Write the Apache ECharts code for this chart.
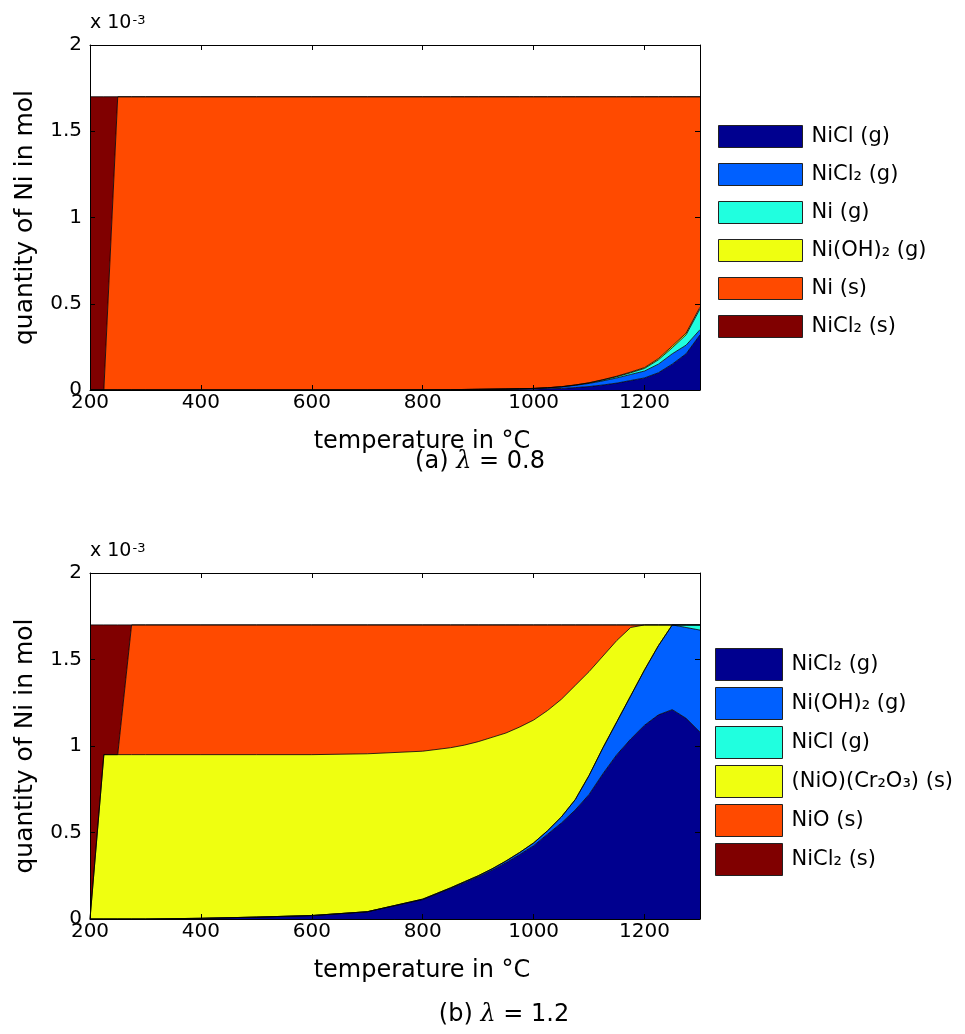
<!DOCTYPE html>
<html><head><meta charset="utf-8">
<script src="https://cdn.jsdelivr.net/npm/echarts@6/dist/echarts.min.js"></script>
<style>html,body{margin:0;padding:0;background:#fff}#c{width:965px;height:1034px}</style>
</head><body><div id="c"></div>
<script>
// temperatures (°C)
const temps = [200,225,250,275,300,400,500,600,700,800,850,875,900,925,950,975,1000,1025,1050,1075,1100,1125,1150,1175,1200,1225,1250,1275,1300];

// (a) lambda = 0.8   values in 1e-3 mol
const aNames = ['NiCl (g)','NiCl₂ (g)','Ni (g)','Ni(OH)₂ (g)','Ni (s)','NiCl₂ (s)'];
const a_NiCl_g   = [0,0,0,0,0,0,0,0,0,0.0005,0.001,0.0015,0.002,0.0025,0.003,0.004,0.005,0.007,0.009,0.014,0.02,0.029,0.04,0.055,0.07,0.1,0.15,0.21,0.32];
const a_NiCl2_g  = [0,0,0,0,0,0,0,0,0,0.0005,0.001,0.0015,0.002,0.0025,0.003,0.0035,0.004,0.006,0.009,0.013,0.018,0.024,0.03,0.035,0.04,0.05,0.06,0.05,0.03];
const a_Ni_g     = [0,0,0,0,0,0,0,0,0,0,0,0,0,0,0,0,0,0,0.001,0.002,0.003,0.005,0.007,0.01,0.015,0.025,0.035,0.06,0.12];
const a_NiOH2_g  = [0,0,0,0,0,0,0,0,0,0,0,0,0,0,0,0,0,0,0,0,0.001,0.002,0.003,0.004,0.005,0.007,0.01,0.01,0.01];
const a_Ni_s     = [0,0,1.7,1.7,1.7,1.7,1.7,1.7,1.7,1.699,1.698,1.697,1.696,1.695,1.694,1.6925,1.691,1.687,1.681,1.671,1.658,1.64,1.62,1.596,1.57,1.518,1.445,1.37,1.22];
const a_NiCl2_s  = [1.7,1.7,0,0,0,0,0,0,0,0,0,0,0,0,0,0,0,0,0,0,0,0,0,0,0,0,0,0,0];

// (b) lambda = 1.2
const bNames = ['NiCl₂ (g)','Ni(OH)₂ (g)','NiCl (g)','(NiO)(Cr₂O₃) (s)','NiO (s)','NiCl₂ (s)'];
const b_NiCl2_g  = [0,0,0,0,0,0.004,0.011,0.02,0.042,0.112,0.176,0.21,0.244,0.282,0.325,0.373,0.424,0.49,0.555,0.63,0.72,0.84,0.95,1.04,1.12,1.18,1.21,1.16,1.08];
const b_NiOH2_g  = [0,0,0,0,0,0,0,0,0,0.003,0.004,0.005,0.006,0.008,0.01,0.012,0.016,0.02,0.035,0.06,0.11,0.15,0.19,0.25,0.32,0.4,0.49,0.525,0.59];
const b_NiCl_g   = [0,0,0,0,0,0,0,0,0,0,0,0,0,0,0,0,0,0,0,0,0,0,0,0,0,0,0,0.015,0.03];
const b_NiOCr2O3 = [0,0.95,0.95,0.95,0.95,0.946,0.939,0.93,0.913,0.855,0.81,0.79,0.775,0.76,0.74,0.725,0.71,0.695,0.68,0.66,0.6,0.53,0.47,0.395,0.26,0.12,0,0,0];
const b_NiO_s    = [0,0,0,0.75,0.75,0.75,0.75,0.75,0.745,0.73,0.71,0.695,0.675,0.65,0.625,0.59,0.55,0.495,0.43,0.35,0.27,0.18,0.09,0.015,0,0,0,0,0];
const b_NiCl2_s  = [1.7,0.75,0.75,0,0,0,0,0,0,0,0,0,0,0,0,0,0,0,0,0,0,0,0,0,0,0,0,0,0];

const jet = ['#00008F','#0060FF','#20FFDF','#EFFF10','#FF4A00','#800000'];
const FONT = 'DejaVu Sans';

const grids = [
  {left:90, top:45, width:610, height:345, show:false},
  {left:90, top:573, width:610, height:346, show:false}
];

function xAxes(g){
  return [{
    gridIndex:g, type:'value', position:'bottom', min:200, max:1300, interval:200, z:10,
    axisLine:{onZero:false, lineStyle:{color:'#000', width:1}},
    axisTick:{inside:true, length:5, lineStyle:{color:'#000'}},
    axisLabel:{color:'#000', fontFamily:FONT, fontSize:20, margin:3, showMaxLabel:false, formatter:v=>String(v)},
    splitLine:{show:false},
    name:'temperature in °C', nameLocation:'middle', nameGap:40,
    nameTextStyle:{color:'#000', fontFamily:FONT, fontSize:24, padding:[0,0,0,54]}
  },{
    gridIndex:g, type:'value', position:'top', min:200, max:1300, interval:200, z:10,
    axisLine:{onZero:false, lineStyle:{color:'#000', width:1}},
    axisTick:{inside:true, length:5, lineStyle:{color:'#000'}},
    axisLabel:{show:false}, splitLine:{show:false}
  }];
}
function yAxes(g){
  return [{
    gridIndex:g, type:'value', position:'left', min:0, max:2, interval:0.5, z:10,
    axisLine:{onZero:false, show:true, lineStyle:{color:'#000', width:1}},
    axisTick:{show:true, inside:true, length:5, lineStyle:{color:'#000'}},
    axisLabel:{color:'#000', fontFamily:FONT, fontSize:20, margin:8, formatter:v=>String(v)},
    splitLine:{show:false},
    name:'quantity of Ni in mol', nameLocation:'middle', nameGap:52, nameRotate:90,
    nameTextStyle:{color:'#000', fontFamily:FONT, fontSize:25}
  },{
    gridIndex:g, type:'value', position:'right', min:0, max:2, interval:0.5, z:10,
    axisLine:{onZero:false, show:true, lineStyle:{color:'#000', width:1}},
    axisTick:{show:true, inside:true, length:5, lineStyle:{color:'#000'}},
    axisLabel:{show:false}, splitLine:{show:false}
  }];
}

// value is put in the first dimension so that the stack is applied to the y values
function mk(prefix, names, arrs, axisIdx, stack){
  return arrs.map((v,i)=>({
    type:'line', name: prefix+names[i], xAxisIndex:axisIdx, yAxisIndex:axisIdx, stack:stack,
    encode:{x:1, y:0},
    data: temps.map((t,k)=>[v[k], t]),
    symbol:'none', smooth:false, silent:true,
    lineStyle:{color:'#000', width:0.8},
    itemStyle:{color:jet[i]},
    areaStyle:{color:jet[i], opacity:1},
    emphasis:{disabled:true}
  }));
}

const seriesA = mk('a:', aNames, [a_NiCl_g,a_NiCl2_g,a_Ni_g,a_NiOH2_g,a_Ni_s,a_NiCl2_s], 0, 'A');
const seriesB = mk('b:', bNames, [b_NiCl2_g,b_NiOH2_g,b_NiCl_g,b_NiOCr2O3,b_NiO_s,b_NiCl2_s], 2, 'B');

const legendText = {fontFamily:FONT, fontSize:21, color:'#000', padding:[0,0,0,4]};

const expRich = {
  a:{fontFamily:FONT, fontSize:19, fontWeight:'normal', color:'#000', verticalAlign:'bottom', lineHeight:19},
  b:{fontFamily:FONT, fontSize:13, fontWeight:'normal', color:'#000', verticalAlign:'top', lineHeight:13, padding:[0,0,8,1]}
};
const capRich = {
  n:{fontFamily:FONT, fontSize:24, fontWeight:'normal', color:'#000'},
  l:{fontFamily:'DejaVu Serif', fontStyle:'italic', fontWeight:'normal', fontSize:24, color:'#000'}
};

const option = {
  animation:false,
  backgroundColor:'#fff',
  textStyle:{fontFamily:FONT},
  grid: grids,
  xAxis: [...xAxes(0), ...xAxes(1)],
  yAxis: [...yAxes(0), ...yAxes(1)],
  title: [
    {text:'{a|x 10}{b|-3}', left:90, top:14, padding:0, textStyle:{fontWeight:'normal', rich:expRich}},
    {text:'{a|x 10}{b|-3}', left:90, top:542, padding:0, textStyle:{fontWeight:'normal', rich:expRich}},
    {text:'{n|(a) }{l|λ}{n| = 0.8}', left:480, top:450, textAlign:'center', padding:0, textStyle:{fontWeight:'normal', rich:capRich}},
    {text:'{n|(b) }{l|λ}{n| = 1.2}', left:504, top:1003, textAlign:'center', padding:0, textStyle:{fontWeight:'normal', rich:capRich}}
  ],
  legend: [
    {data: aNames.map(n=>'a:'+n), orient:'vertical', left:718, top:125, padding:0,
     itemWidth:84, itemHeight:22, itemGap:15, icon:'rect', selectedMode:false,
     formatter: n=>n.slice(2), textStyle:legendText,
     itemStyle:{borderColor:'#222', borderWidth:1}},
    {data: bNames.map(n=>'b:'+n), orient:'vertical', left:715, top:648, padding:0,
     itemWidth:67, itemHeight:32, itemGap:6, icon:'rect', selectedMode:false,
     formatter: n=>n.slice(2), textStyle:legendText,
     itemStyle:{borderColor:'#222', borderWidth:1}}
  ],
  series: [...seriesA, ...seriesB]
};

const chart = echarts.init(document.getElementById('c'), null, {renderer:'canvas'});
chart.setOption(option);
</script></body></html>
